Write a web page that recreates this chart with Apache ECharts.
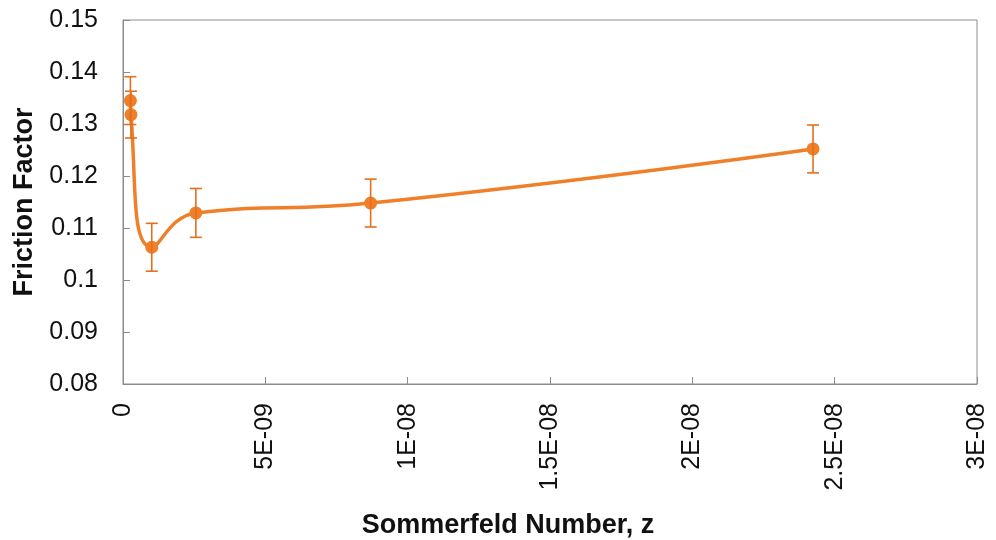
<!DOCTYPE html>
<html>
<head>
<meta charset="utf-8">
<script src="https://cdn.jsdelivr.net/npm/echarts@6/dist/echarts.min.js"></script>
<style>
html,body{margin:0;padding:0;background:#fff;}
#chart{width:996px;height:540px;}
</style>
</head>
<body>
<div id="chart"></div>
<script>
// Data
var sommerfeld = [0.26e-9, 0.28e-9, 1.01e-9, 2.56e-9, 8.7e-9, 2.424e-8];
var frictionFactor = [0.1345, 0.1318, 0.1063, 0.1129, 0.1148, 0.1252];
var errorBar = [0.0046, 0.0045, 0.0046, 0.0047, 0.0046, 0.0046];
var xTickLabels = ['0', '5E-09', '1E-08', '1.5E-08', '2E-08', '2.5E-08', '3E-08'];
var yTickLabels = ['0.08', '0.09', '0.1', '0.11', '0.12', '0.13', '0.14', '0.15'];

var lineColor = '#F07F2A';
var barColor = '#E2701E';

var points = sommerfeld.map(function (z, i) { return [z, frictionFactor[i]]; });
var errData = sommerfeld.map(function (z, i) {
  return [z, frictionFactor[i] - errorBar[i], frictionFactor[i] + errorBar[i]];
});

var chart = echarts.init(document.getElementById('chart'), null, {renderer: 'canvas'});
chart.setOption({
  animation: false,
  backgroundColor: '#ffffff',
  grid: {left: 123, right: 19, top: 20, bottom: 156, containLabel: false, outerBoundsMode: 'none',
         show: true, borderColor: '#8c8c8c', borderWidth: 1},
  xAxis: {
    type: 'value', min: 0, max: 3e-8, interval: 5e-9,
    name: 'Sommerfeld Number, z', nameLocation: 'middle', nameGap: 128,
    nameTextStyle: {fontFamily: 'Liberation Sans, Arial', fontWeight: 'bold', fontSize: 27, color: '#111', padding: [0, 84, 0, 0]},
    axisLine: {show: true, lineStyle: {color: '#8c8c8c', width: 1}},
    axisTick: {show: true, inside: true, length: 7, lineStyle: {color: '#8c8c8c'}},
    splitLine: {show: false},
    axisLabel: {
      rotate: 90, margin: 19, fontFamily: 'Liberation Sans, Arial', fontSize: 25, color: '#111',
      formatter: function (v, i) { return xTickLabels[i]; }
    }
  },
  yAxis: {
    type: 'value', min: 0.08, max: 0.15, interval: 0.01,
    name: 'Friction Factor', nameLocation: 'middle', nameGap: 83, nameRotate: 90,
    nameTextStyle: {fontFamily: 'Liberation Sans, Arial', fontWeight: 'bold', fontSize: 27, color: '#111'},
    axisLine: {show: true, lineStyle: {color: '#8c8c8c', width: 1}},
    axisTick: {show: true, inside: true, length: 7, lineStyle: {color: '#8c8c8c'}},
    splitLine: {show: false},
    axisLabel: {
      margin: 25, fontFamily: 'Liberation Sans, Arial', fontSize: 25, color: '#111',
      formatter: function (v, i) { return yTickLabels[i]; }
    }
  },
  series: [
    {
      type: 'line', data: points, smooth: 0.5,
      symbol: 'circle', symbolSize: 13,
      lineStyle: {color: lineColor, width: 3.5},
      itemStyle: {color: lineColor},
      z: 3
    },
    {
      type: 'custom', data: errData, z: 4,
      renderItem: function (params, api) {
        var x = api.value(0);
        var lo = api.coord([x, api.value(1)]);
        var hi = api.coord([x, api.value(2)]);
        var hw = 6;
        var st = {stroke: barColor, lineWidth: 1.6};
        return {
          type: 'group',
          children: [
            {type: 'line', shape: {x1: lo[0], y1: lo[1], x2: hi[0], y2: hi[1]}, style: st},
            {type: 'line', shape: {x1: lo[0] - hw, y1: lo[1], x2: lo[0] + hw, y2: lo[1]}, style: st},
            {type: 'line', shape: {x1: hi[0] - hw, y1: hi[1], x2: hi[0] + hw, y2: hi[1]}, style: st}
          ]
        };
      }
    }
  ]
});
</script>
</body>
</html>
